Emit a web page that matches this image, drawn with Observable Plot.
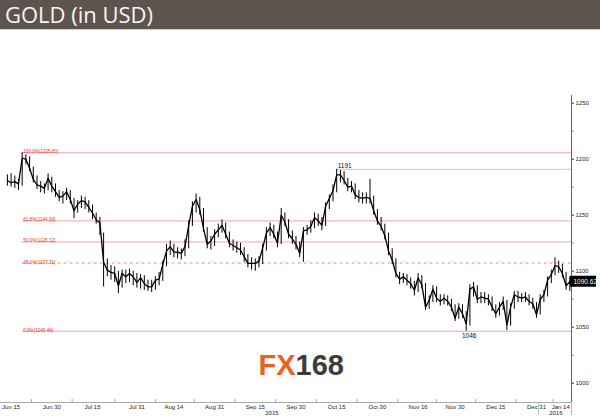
<!DOCTYPE html>
<html><head><meta charset="utf-8">
<script src="https://cdn.jsdelivr.net/npm/d3@7"></script>
<script src="https://cdn.jsdelivr.net/npm/@observablehq/plot@0.6"></script>
<style>
body{margin:0;background:#fff;width:600px;height:420px;overflow:hidden;font-family:"Open Sans",sans-serif}
#hdr{height:29px;background:#5e544e;color:#f6f6f6;font-size:22px;line-height:29px;padding-left:5px;border-bottom:1px solid #cfcfcf;box-sizing:content-box}
#chart svg{display:block}
</style></head><body>
<div id="hdr">GOLD (in USD)</div>
<div id="chart"></div>
<script>
// Daily gold prices (trading days, Jun 12 2015 – Jan 14 2016)
const closes = [1181,1179,1180,1178,1201,1200,1192,1182,1177,1176,1174,1183,1176,1171,1166,1167,1171,1164,1154,1160,
1163,1162,1157,1152,1146,1143,1108,1101,1099,1098,1087,1098,1095,1098,1095,1090,1094,1089,1086,1086,
1092,1093,1106,1118,1122,1117,1117,1116,1122,1141,1158,1164,1155,1138,1124,1127,1133,1137,1141,1133,
1125,1123,1121,1119,1113,1107,1107,1107,1109,1121,1134,1139,1133,1125,1150,1144,1133,1129,1124,1116,
1136,1137,1140,1148,1145,1141,1158,1165,1172,1186,1186,1181,1175,1176,1168,1166,1165,1166,1165,1154,
1145,1140,1132,1118,1110,1098,1093,1095,1092,1089,1083,1094,1088,1068,1074,1084,1076,1073,1076,1073,
1068,1058,1068,1062,1053,1084,1086,1075,1077,1076,1075,1068,1062,1068,1073,1052,1068,1079,1077,1076,
1077,1073,1071,1061,1075,1079,1092,1097,1105,1104,1098,1087,1090.62];
const highs = [1186,1187,1185,1182,1205.8,1204,1202,1193,1185,1180,1178,1187,1184,1178,1172,1171,1174,1172,1165,1163,
1167,1166,1163,1159,1152,1148,1134,1111,1105,1104,1100,1101,1101,1102,1100,1098,1097,1096,1092,1092,
1095,1099,1109,1124,1127,1124,1121,1120,1128,1145,1162,1169,1166,1156,1139,1131,1137,1142,1146,1143,
1135,1128,1126,1125,1121,1115,1112,1111,1113,1124,1139,1143,1141,1135,1156,1152,1146,1136,1131,1126,
1139,1141,1145,1152,1151,1148,1161,1168,1177,1191,1190,1189,1183,1180,1178,1172,1170,1170,1182,1167,
1155,1148,1142,1134,1120,1111,1099,1098,1097,1094,1091,1098,1096,1089,1078,1087,1086,1079,1079,1078,
1075,1070,1071,1070,1064,1088,1090,1087,1081,1081,1079,1077,1070,1072,1077,1074,1071,1082,1082,1080,
1081,1079,1076,1072,1079,1083,1095,1101,1112,1109,1106,1099,1095];
const lows = [1176,1175,1174,1172,1176,1195,1189,1179,1173,1170,1169,1172,1170,1166,1162,1160,1163,1160,1147,1152,
1156,1155,1152,1146,1142,1132,1086,1095,1092,1090,1080,1085,1089,1090,1087,1085,1084,1083,1082,1081,
1083,1087,1091,1104,1114,1112,1111,1110,1113,1120,1140,1152,1150,1135,1120,1119,1122,1130,1134,1129,
1121,1118,1116,1114,1108,1103,1101,1100,1103,1106,1118,1131,1129,1121,1124,1140,1129,1124,1119,1112,
1108,1132,1134,1138,1140,1136,1140,1155,1162,1170,1179,1177,1171,1170,1164,1161,1160,1160,1160,1150,
1141,1136,1128,1114,1106,1094,1088,1089,1087,1084,1078,1081,1084,1065,1066,1072,1072,1069,1070,1069,
1064,1055,1057,1058,1046.44,1051,1077,1071,1071,1071,1069,1064,1058,1060,1065,1047,1051,1066,1072,1072,
1072,1069,1066,1058,1061,1072,1077,1089,1096,1098,1094,1083,1082];
const startDate = "2015-06-12", endDate = "2016-01-14";
const holidays = ["2015-12-25", "2016-01-01"];
const tickDates = ["2015-06-15","2015-06-30","2015-07-15","2015-07-31","2015-08-14","2015-08-31","2015-09-15","2015-09-30","2015-10-15","2015-10-30","2015-11-16","2015-11-30","2015-12-15","2015-12-31","2016-01-14"];
const tickLabels = ["Jun 15","Jun 30","Jul 15","Jul 31","Aug 14","Aug 31","Sep 15","Sep 30","Oct 15","Oct 30","Nov 16","Nov 30","Dec 15","Dec 31","Jan 14"];
const yearLabels = ["2015", "2016"];
const fibLevels = [1205.80, 1144.93, 1126.12, 1107.31, 1046.44];
const fibLabels = ["100.0%(1205.80)","61.8%(1144.93)","50.0%(1126.12)","38.2%(1107.31)","0.0%(1046.44)"];
const fibDashed = [false, false, false, true, false];
const peakValue = 1191, peakLabel = "1191";
const lowValue = 1046.44, lowLabel = "1046";
const lastLabel = "1090.62";
const yMajor = [1000, 1050, 1100, 1150, 1200, 1250];
const yMinor = [1025, 1075, 1125, 1175, 1225];

// trading-day calendar
const dates = [];
for (let t = new Date(startDate + "T00:00:00Z"); t <= new Date(endDate + "T00:00:00Z"); t = new Date(t.getTime() + 86400000)) {
  const s = t.toISOString().slice(0, 10), wd = t.getUTCDay();
  if (wd !== 0 && wd !== 6 && !holidays.includes(s)) dates.push(s);
}
const rows = dates.map((d, i) => ({i, date: d, c: closes[i], h: highs[i], l: lows[i]}));
const xMin = -1.865, xEnd = 152.46, yMin = 982.8, yMax = 1256.9;
const hiIdx = highs.indexOf(d3.max(highs));
const loIdx = lows.indexOf(d3.min(lows));
const peakIdx = d3.maxIndex(closes.slice(80, 100)) + 80;
const tickRows = tickDates.map((d, k) => ({i: dates.indexOf(d), label: tickLabels[k], last: k === tickDates.length - 1}));
const midTicks = tickRows.slice(0, -1).map((t, k) => (t.i + tickRows[k + 1].i) / 2);
const jan1Idx = dates.findIndex(d => d >= "2016-01-01");
const yearRows = [{x: (0 + jan1Idx - 1) / 2, label: yearLabels[0]}, {x: (jan1Idx + xEnd) / 2, label: yearLabels[1]}];
const fibRows = fibLevels.map((v, k) => ({v, label: fibLabels[k], dashed: fibDashed[k]}));

const tickFont = "Liberation Sans";
const plot = Plot.plot({
  width: 600, height: 390,
  marginTop: 65, marginBottom: 18, marginLeft: 0, marginRight: 29,
  style: {background: "#fff", fontFamily: tickFont},
  x: {type: "linear", domain: [xMin, xEnd], axis: null},
  y: {domain: [yMin, yMax]},
  marks: [
    Plot.ruleY(fibRows.filter(d => !d.dashed), {y: "v", x1: hiIdx, x2: xEnd, stroke: "#f6a6a6", strokeWidth: 1}),
    Plot.ruleY(fibRows.filter(d => d.dashed), {y: "v", x1: hiIdx, x2: xEnd, stroke: "#f08c8c", strokeWidth: 1, strokeDasharray: "3,3"}),
    Plot.text(fibRows, {x: hiIdx, y: "v", text: "label", textAnchor: "start", lineAnchor: "bottom", dx: 1, dy: 0.5, fontSize: 4.6, fill: "#e53030"}),
    Plot.ruleY([peakValue], {y: d => d, x1: peakIdx, x2: xEnd, stroke: "#a6dcbc", strokeWidth: 1}),
    Plot.text([peakLabel], {x: peakIdx, y: peakValue, text: d => d, textAnchor: "start", lineAnchor: "bottom", dx: 1, dy: -1, fontSize: 6.5, fill: "#111"}),
    Plot.text([lowLabel], {x: loIdx, y: lowValue, text: d => d, textAnchor: "middle", lineAnchor: "top", dx: 3, dy: 2.5, fontSize: 6.5, fill: "#111"}),
    Plot.ruleX(rows, {x: "i", y1: "l", y2: "h", stroke: "#000", strokeWidth: 1}),
    Plot.line(rows, {x: "i", y: "c", stroke: "#000", strokeWidth: 1.3}),
    Plot.ruleX([xEnd], {stroke: "#666", strokeWidth: 1}),
    Plot.ruleY([yMin], {stroke: "#aaa", strokeWidth: 1}),
    Plot.axisY(yMajor, {anchor: "right", tickSize: 2, tickPadding: 2, fontSize: 6, tickFormat: d => String(d), stroke: "#333", fill: "#222"}),
    Plot.axisY(yMinor, {anchor: "right", tickSize: 1.5, tickFormat: () => "", stroke: "#777"}),
    Plot.ruleX(midTicks, {x: d => d, y1: yMin, y2: yMin, insetTop: -3, stroke: "#aaa"}),
    Plot.text(tickRows.filter(d => !d.last), {x: "i", text: "label", frameAnchor: "bottom", lineAnchor: "top", dy: 2, fontSize: 6, fill: "#222"}),
    Plot.text(tickRows.filter(d => d.last), {x: "i", text: "label", frameAnchor: "bottom", lineAnchor: "top", textAnchor: "end", dy: 2, fontSize: 6, fill: "#222"}),
    Plot.ruleX([jan1Idx - 0.5, xEnd], {x: d => d, y1: yMin, y2: yMin, insetBottom: -13, stroke: "#bbb"}),
    Plot.text(yearRows, {x: "x", text: "label", frameAnchor: "bottom", lineAnchor: "top", dy: 8, fontSize: 6, fill: "#222"}),
    Plot.rect([closes[closes.length - 1]], {x1: xEnd, x2: xEnd, y1: d => d, y2: d => d, insetLeft: -1, insetRight: -25, insetTop: -5.5, insetBottom: -5.5, fill: "#000"}),
    Plot.text([lastLabel], {x: xEnd, y: closes[closes.length - 1], text: d => d, textAnchor: "start", dx: 2, fontSize: 6.5, fill: "#fff"}),
    Plot.text(["FX"], {frameAnchor: "top-left", text: d => d, dx: 258, dy: 270, textAnchor: "start", lineAnchor: "middle", fontSize: 29, fontWeight: "bold", fill: "#e8641e", fontFamily: "Liberation Sans"}),
    Plot.text(["168"], {frameAnchor: "top-left", text: d => d, dx: 295, dy: 270, textAnchor: "start", lineAnchor: "middle", fontSize: 29, fontWeight: "bold", fill: "#3c3c3c", fontFamily: "Liberation Sans"})
  ]
});
document.getElementById("chart").appendChild(plot);
</script>
</body></html>
